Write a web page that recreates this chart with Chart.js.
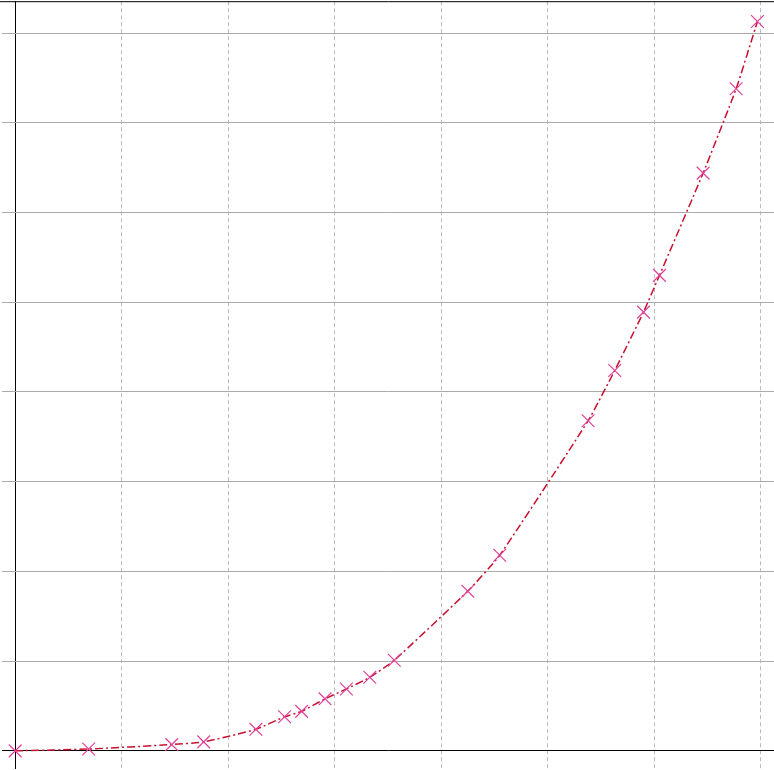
<!DOCTYPE html>
<html><head><meta charset="utf-8">
<script src="https://cdn.jsdelivr.net/npm/chart.js@4"></script>
<style>html,body{margin:0;padding:0;background:#fff;overflow:hidden;width:774px;height:770px;position:relative}#w{position:absolute;left:-8px;top:-9px;width:793px;height:788px}</style>
</head><body><div id="w"><canvas id="c"></canvas></div>
<script>
const xValues=[0,0.69,1.47,1.77,2.26,2.53,2.69,2.91,3.11,3.33,3.56,4.25,4.55,5.38,5.63,5.90,6.05,6.46,6.77,6.97];
const yValues=[0,0.02,0.07,0.10,0.24,0.38,0.44,0.58,0.69,0.82,1.01,1.78,2.18,3.68,4.24,4.89,5.30,6.44,7.38,8.13];
const xTicks=[0,1,2,3,4,5,6,7];
const yTicks=[0,1,2,3,4,5,6,7,8];
const topLine={id:'topLine',afterDraw(ch){const c=ch.ctx,t=ch.chartArea.top;c.save();c.strokeStyle='#000';c.lineWidth=1;c.beginPath();c.moveTo(0,t+0.5);c.lineTo(ch.width,t+0.5);c.stroke();c.restore();}};
new Chart(document.getElementById('c'),{
type:'line',
data:{datasets:[{data:xValues.map((x,i)=>({x,y:yValues[i]})),borderColor:'#c8102e',borderWidth:1.5,borderDash:[8,3,2,3],tension:0.15,
pointStyle:'crossRot',pointRadius:9,pointBorderColor:'#e0409a',pointBorderWidth:1.2,pointBackgroundColor:'transparent'}]},
options:{animation:false,responsive:true,maintainAspectRatio:false,layout:{padding:0},
plugins:{legend:{display:false},tooltip:{enabled:false}},
scales:{
x:{type:'linear',min:-0.122,max:7.133,afterBuildTicks:s=>{s.ticks=xTicks.map(v=>({value:v}));},
ticks:{display:false},border:{display:false,dash:c=>c.tick&&c.tick.value===0?[]:[4,3]},
grid:{drawTicks:false,color:c=>c.tick&&c.tick.value===0?'#000':'#bbb',lineWidth:1}},
y:{type:'linear',min:-0.2,max:8.356,afterBuildTicks:s=>{s.ticks=yTicks.map(v=>({value:v}));},
ticks:{display:false},border:{display:false},
grid:{drawTicks:false,color:c=>c.tick&&c.tick.value===0?'#000':'#aaa',lineWidth:1}}
}},plugins:[topLine]});
</script></body></html>
